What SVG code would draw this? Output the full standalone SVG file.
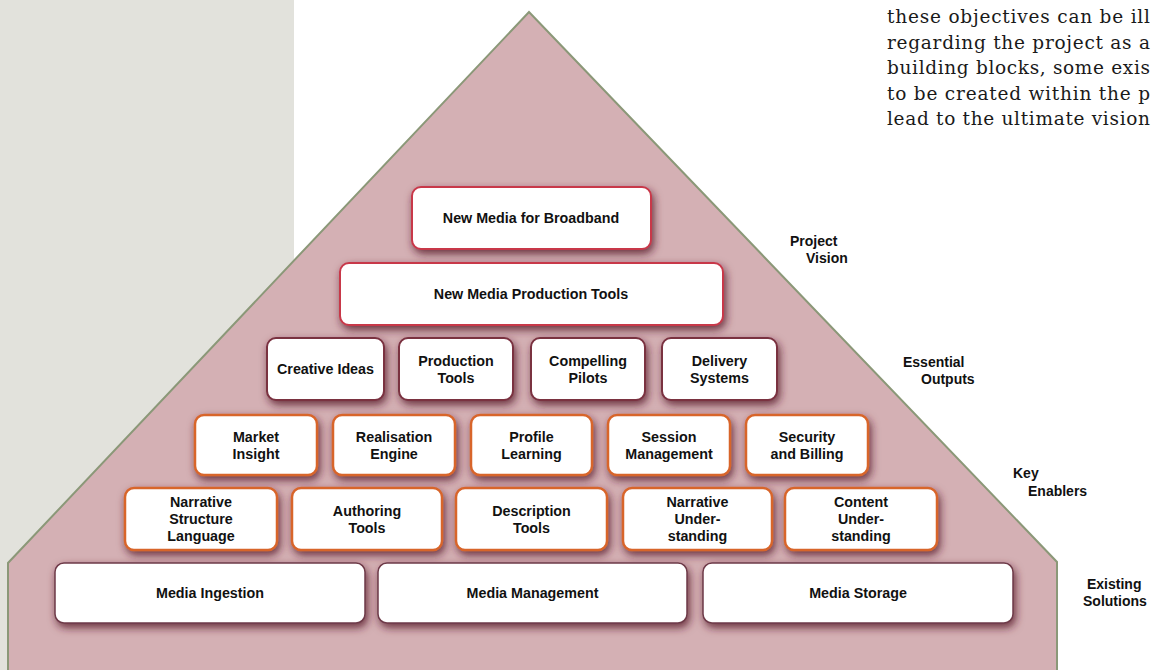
<svg xmlns="http://www.w3.org/2000/svg" width="1151" height="670" viewBox="0 0 1151 670">
  <defs>
    <filter id="shadow" x="-20%" y="-30%" width="140%" height="180%">
      <feGaussianBlur in="SourceAlpha" stdDeviation="4.5"/>
      <feOffset dx="2" dy="4" result="blur"/>
      <feFlood flood-color="#5a1c2c" flood-opacity="0.85"/>
      <feComposite in2="blur" operator="in"/>
      <feMerge>
        <feMergeNode/>
        <feMergeNode in="SourceGraphic"/>
      </feMerge>
    </filter>
  </defs>
  <style>
    .box { fill: #ffffff; filter: url(#shadow); }
    .vision { stroke: #c8384a; stroke-width: 2; }
    .output { stroke: #7a3040; stroke-width: 2; }
    .enabler { stroke: #d8652c; stroke-width: 2.5; }
    .existing { stroke: #6e3a48; stroke-width: 1.5; }
    .lbl { font-family: "Liberation Sans", Arial, sans-serif; font-weight: bold; font-size: 14.3px; fill: #111111; text-anchor: middle; }
    .side { font-family: "Liberation Sans", Arial, sans-serif; font-weight: bold; font-size: 14px; fill: #111111; }
    .body { font-family: "DejaVu Serif", "Liberation Serif", serif; font-size: 18.5px; fill: #1a1a1a; }
  </style>

  <!-- page background and grey side panel -->
  <rect x="0" y="0" width="1151" height="670" fill="#ffffff"/>
  <rect x="0" y="0" width="294" height="670" fill="#e2e2dc"/>

  <!-- running text, justified to the column edge -->
  <g id="body-text" class="body">
    <text x="887" y="23" textLength="263" lengthAdjust="spacing">these objectives can be ill</text>
    <text x="887" y="48.5" textLength="263" lengthAdjust="spacing">regarding the project as a</text>
    <text x="887" y="74" textLength="263" lengthAdjust="spacing">building blocks, some exis</text>
    <text x="887" y="99.5" textLength="263" lengthAdjust="spacing">to be created within the p</text>
    <text x="887" y="125" textLength="263" lengthAdjust="spacing">lead to the ultimate vision</text>
  </g>

  <!-- house-shaped pyramid -->
  <polygon id="pyramid" points="529,12 1057,562 1057,672 8,672 8,563" fill="#d4b0b4" stroke="#8b9878" stroke-width="2" stroke-linejoin="miter"/>

  <!-- Project vision -->
  <g id="new-media-broadband">
    <rect class="box vision" x="412" y="187" width="239" height="62" rx="9"/>
    <text class="lbl" x="531" y="223">New Media for Broadband</text>
  </g>
  <g id="new-media-production-tools">
    <rect class="box vision" x="340" y="263" width="383" height="62" rx="9"/>
    <text class="lbl" x="531" y="299">New Media Production Tools</text>
  </g>

  <!-- Essential outputs -->
  <g id="creative-ideas">
    <rect class="box output" x="267" y="338" width="117" height="62" rx="9"/>
    <text class="lbl" x="325.5" y="374">Creative Ideas</text>
  </g>
  <g id="production-tools">
    <rect class="box output" x="399" y="338" width="114" height="62" rx="9"/>
    <text class="lbl" x="456" y="366">Production</text>
    <text class="lbl" x="456" y="383">Tools</text>
  </g>
  <g id="compelling-pilots">
    <rect class="box output" x="531" y="338" width="114" height="62" rx="9"/>
    <text class="lbl" x="588" y="366">Compelling</text>
    <text class="lbl" x="588" y="383">Pilots</text>
  </g>
  <g id="delivery-systems">
    <rect class="box output" x="662" y="338" width="115" height="62" rx="9"/>
    <text class="lbl" x="719.5" y="366">Delivery</text>
    <text class="lbl" x="719.5" y="383">Systems</text>
  </g>

  <!-- Key enablers, upper row -->
  <g id="market-insight">
    <rect class="box enabler" x="195" y="415" width="122" height="60" rx="9"/>
    <text class="lbl" x="256" y="442">Market</text>
    <text class="lbl" x="256" y="459">Insight</text>
  </g>
  <g id="realisation-engine">
    <rect class="box enabler" x="333" y="415" width="122" height="60" rx="9"/>
    <text class="lbl" x="394" y="442">Realisation</text>
    <text class="lbl" x="394" y="459">Engine</text>
  </g>
  <g id="profile-learning">
    <rect class="box enabler" x="471" y="415" width="121" height="60" rx="9"/>
    <text class="lbl" x="531.5" y="442">Profile</text>
    <text class="lbl" x="531.5" y="459">Learning</text>
  </g>
  <g id="session-management">
    <rect class="box enabler" x="608" y="415" width="122" height="60" rx="9"/>
    <text class="lbl" x="669" y="442">Session</text>
    <text class="lbl" x="669" y="459">Management</text>
  </g>
  <g id="security-billing">
    <rect class="box enabler" x="746" y="415" width="122" height="60" rx="9"/>
    <text class="lbl" x="807" y="442">Security</text>
    <text class="lbl" x="807" y="459">and Billing</text>
  </g>

  <!-- Key enablers, lower row -->
  <g id="narrative-structure-language">
    <rect class="box enabler" x="125" y="488" width="152" height="62" rx="9"/>
    <text class="lbl" x="201" y="507">Narrative</text>
    <text class="lbl" x="201" y="524">Structure</text>
    <text class="lbl" x="201" y="541">Language</text>
  </g>
  <g id="authoring-tools">
    <rect class="box enabler" x="292" y="488" width="150" height="62" rx="9"/>
    <text class="lbl" x="367" y="516">Authoring</text>
    <text class="lbl" x="367" y="533">Tools</text>
  </g>
  <g id="description-tools">
    <rect class="box enabler" x="456" y="488" width="151" height="62" rx="9"/>
    <text class="lbl" x="531.5" y="516">Description</text>
    <text class="lbl" x="531.5" y="533">Tools</text>
  </g>
  <g id="narrative-understanding">
    <rect class="box enabler" x="623" y="488" width="149" height="62" rx="9"/>
    <text class="lbl" x="697.5" y="507">Narrative</text>
    <text class="lbl" x="697.5" y="524">Under-</text>
    <text class="lbl" x="697.5" y="541">standing</text>
  </g>
  <g id="content-understanding">
    <rect class="box enabler" x="785" y="488" width="152" height="62" rx="9"/>
    <text class="lbl" x="861" y="507">Content</text>
    <text class="lbl" x="861" y="524">Under-</text>
    <text class="lbl" x="861" y="541">standing</text>
  </g>

  <!-- Existing solutions -->
  <g id="media-ingestion">
    <rect class="box existing" x="55" y="563" width="310" height="60" rx="9"/>
    <text class="lbl" x="210" y="598">Media Ingestion</text>
  </g>
  <g id="media-management">
    <rect class="box existing" x="378" y="563" width="309" height="60" rx="9"/>
    <text class="lbl" x="532.5" y="598">Media Management</text>
  </g>
  <g id="media-storage">
    <rect class="box existing" x="703" y="563" width="310" height="60" rx="9"/>
    <text class="lbl" x="858" y="598">Media Storage</text>
  </g>

  <!-- tier labels -->
  <g id="tier-labels" class="side">
    <text x="790" y="246">Project</text>
    <text x="806" y="263">Vision</text>
    <text x="903" y="367">Essential</text>
    <text x="921" y="384">Outputs</text>
    <text x="1013" y="478">Key</text>
    <text x="1028" y="496">Enablers</text>
    <text x="1087" y="589">Existing</text>
    <text x="1083" y="606">Solutions</text>
  </g>
</svg>
